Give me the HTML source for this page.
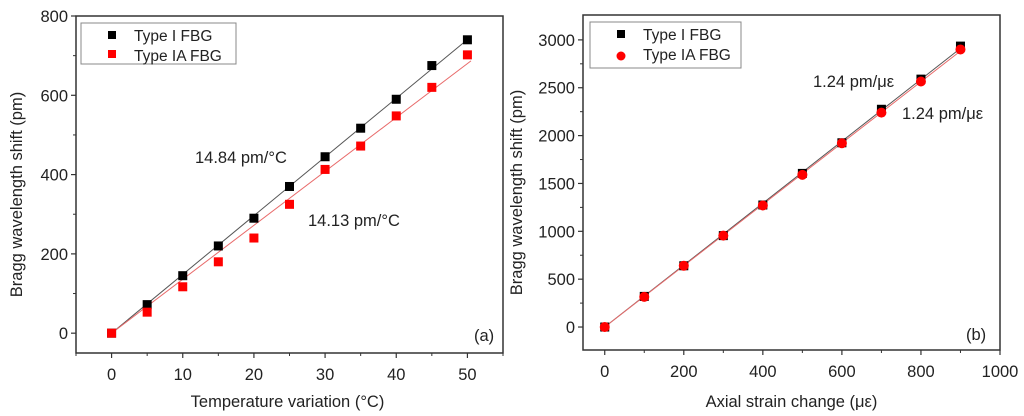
<!DOCTYPE html>
<html><head><meta charset="utf-8"><style>
body{margin:0;background:#fff;}
svg{display:block;font-family:"Liberation Sans",sans-serif;}
</style></head><body>
<svg id="s" width="1024" height="416" viewBox="0 0 1024 416"></svg>
<script>
const tempX=[0,5,10,15,20,25,30,35,40,45,50];
const tempTypeI=[0,72,145,220,290,370,445,517,590,675,740];
const tempTypeIA=[0,53,117,180,240,325,413,472,548,620,702];
const tempXTicks=[0,10,20,30,40,50];
const tempYTicks=[0,200,400,600,800];
const strainX=[0,100,200,300,400,500,600,700,800,900];
const strainTypeI=[0,320,640,955,1275,1605,1925,2275,2590,2935];
const strainTypeIA=[0,315,640,955,1270,1590,1920,2240,2565,2900];
const strainXTicks=[0,200,400,600,800,1000];
const strainYTicks=[0,500,1000,1500,2000,2500,3000];

const NS="http://www.w3.org/2000/svg";
const svg=document.getElementById('s');
function el(tag,attrs,parent,text){const e=document.createElementNS(NS,tag);for(const k in attrs)e.setAttribute(k,attrs[k]);if(text!==undefined)e.textContent=text;(parent||svg).appendChild(e);return e;}
function fit(xs,ys){let sxx=0,sxy=0;for(let i=0;i<xs.length;i++){sxx+=xs[i]*xs[i];sxy+=xs[i]*ys[i];}return{b:sxy/sxx,a:0};}

function panel(o){
  const g=el('g',{},svg);
  
  
  const X=v=>o.L+(v-o.x0)/(o.x1-o.x0)*(o.R-o.L);
  const Y=v=>o.B-(v-o.y0)/(o.y1-o.y0)*(o.B-o.T);
  const fr=el('rect',{x:o.L,y:o.T,width:o.R-o.L,height:o.B-o.T,fill:'none',stroke:'#333','stroke-width':1.5},g);
  
  const xt=el('g',{},g);
  o.xt.forEach((v,i)=>{
    el('line',{x1:X(v),x2:X(v),y1:o.B,y2:o.B+5,stroke:'#333','stroke-width':1.2},xt);
    if(i<o.xt.length-1){const m=(v+o.xt[i+1])/2;el('line',{x1:X(m),x2:X(m),y1:o.B,y2:o.B+3,stroke:'#333'},xt);}
    const t=el('text',{x:X(v),y:o.B+27,'text-anchor':'middle','font-size':16.5,fill:'#222'},xt,String(v));
    
  });
  {const m=o.xt[0]-(o.xt[1]-o.xt[0])/2;if(m>=o.x0)el('line',{x1:X(m),x2:X(m),y1:o.B,y2:o.B+3,stroke:'#333'},xt);
   const m2=o.xt[o.xt.length-1]+(o.xt[1]-o.xt[0])/2;if(m2<=o.x1)el('line',{x1:X(m2),x2:X(m2),y1:o.B,y2:o.B+3,stroke:'#333'},xt);}
  const yt=el('g',{},g);
  o.yt.forEach((v,i)=>{
    el('line',{x1:o.L-5,x2:o.L,y1:Y(v),y2:Y(v),stroke:'#333','stroke-width':1.2},yt);
    if(i<o.yt.length-1){const m=(v+o.yt[i+1])/2;el('line',{x1:o.L-3,x2:o.L,y1:Y(m),y2:Y(m),stroke:'#333'},yt);}
    const t=el('text',{x:o.L-8,y:Y(v)+6,'text-anchor':'end','font-size':16.5,fill:'#222'},yt,String(v));
    
  });
  const xtl=el('text',{x:(o.L+o.R)/2+o.xlo,y:407,'text-anchor':'middle','font-size':16.5,fill:'#222'},g,o.xl);
  
  const ytl=el('text',{x:0,y:0,'text-anchor':'middle','font-size':16.5,fill:'#222',transform:`translate(${o.ylx},${(o.T+o.B)/2+10}) rotate(-90)`},g,'Bragg wavelength shift (pm)');
  
  [[o.s1,'#555','fit-line-type-i'],[o.s2,'#e86a6a','fit-line-type-ia']].forEach(([s,c,n])=>{
    const f=fit(o.xs,s);const xa=o.xs[0],xb=o.xs[o.xs.length-1]+o.ext;
    const l=el('line',{x1:X(xa),y1:Y(f.a+f.b*xa),x2:X(xb),y2:Y(f.a+f.b*xb),stroke:c,'stroke-width':1},g);
    
  });
  const m1=el('g',{},g);
  o.xs.forEach((x,i)=>{const r=el('rect',{x:X(x)-4.5,y:Y(o.s1[i])-4.5,width:9,height:9,fill:'#000'},m1);
    });
  const m2=el('g',{},g);
  o.xs.forEach((x,i)=>{const r=o.circ?el('circle',{cx:X(x),cy:Y(o.s2[i]),r:5,fill:'#f00'},m2):el('rect',{x:X(x)-4.5,y:Y(o.s2[i])-4.5,width:9,height:9,fill:'#f00'},m2);
    });
  const lg=el('g',{},g);
  el('rect',{x:o.lg[0],y:o.lg[1],width:o.lg[2],height:o.lg[3],fill:'#fff',stroke:'#888','stroke-width':1},lg);
  const e1=el('g',{},lg);
  el('rect',{x:o.lg[0]+27,y:o.lg[1]+8,width:8,height:8,fill:'#000'},e1);
  el('text',{x:o.lg[0]+53,y:o.lg[1]+18,'font-size':15.5,fill:'#222'},e1,'Type I FBG');
  const e2=el('g',{},lg);
  if(o.circ)el('circle',{cx:o.lg[0]+31,cy:o.lg[1]+34,r:4.5,fill:'#f00'},e2);else el('rect',{x:o.lg[0]+27,y:o.lg[1]+27,width:8,height:8,fill:'#f00'},e2);
  el('text',{x:o.lg[0]+53,y:o.lg[1]+38,'font-size':15.5,fill:'#222'},e2,'Type IA FBG');
  o.ann.forEach(a=>{const t=el('text',{x:a[0],y:a[1],'font-size':16.5,fill:'#222'},g,a[2]);});
}
panel({name:'temperature-chart',L:76,R:503,T:16,B:353,x0:-5,x1:55,y0:-50,y1:800,xt:tempXTicks,yt:tempYTicks,
  xs:tempX,s1:tempTypeI,s2:tempTypeIA,ext:0.5,circ:false,xl:'Temperature variation (°C)',xlo:-2,ylx:22,
  lg:[81,23,155,41],ann:[[195,163,'14.84 pm/°C','slope-label-type-i'],[308,226,'14.13 pm/°C','slope-label-type-ia'],[474,341,'(a)','panel-label-a']]});
panel({name:'strain-chart',L:583,R:1000,T:15,B:350,x0:-55,x1:1000,y0:-240,y1:3260,xt:strainXTicks,yt:strainYTicks,
  xs:strainX,s1:strainTypeI,s2:strainTypeIA,ext:0,circ:true,xl:'Axial strain change (με)',xlo:0,ylx:522,
  lg:[590,22,151,46],ann:[[813,87,'1.24 pm/με','slope-label-type-i'],[902,119,'1.24 pm/με','slope-label-type-ia'],[966,340,'(b)','panel-label-b']]});
</script>
</body></html>
